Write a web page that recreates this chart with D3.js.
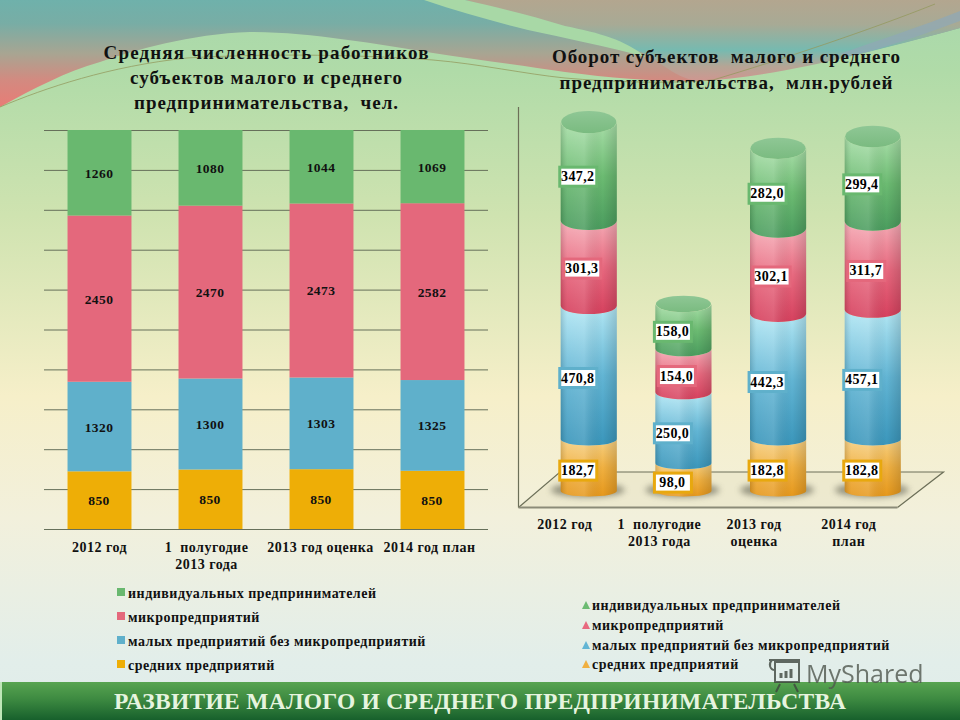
<!DOCTYPE html>
<html><head><meta charset="utf-8">
<script src="https://cdnjs.cloudflare.com/ajax/libs/d3/7.8.5/d3.min.js"></script>
<style>html,body{margin:0;padding:0;background:#fff}svg{display:block}text{font-family:"Liberation Serif",serif;font-weight:bold;fill:#111}</style>
</head><body><div id="c"></div>
<script>
const seriesNames=["средних предприятий","малых предприятий без микропредприятий","микропредприятий","индивидуальных предпринимателей"];
const workersMedium=[850,850,850,850];
const workersSmall=[1320,1300,1303,1325];
const workersMicro=[2450,2470,2473,2582];
const workersIndividual=[1260,1080,1044,1069];
const turnoverMedium=[182.7,98.0,182.8,182.8];
const turnoverSmall=[470.8,250.0,442.3,457.1];
const turnoverMicro=[301.3,154.0,302.1,311.7];
const turnoverIndividual=[347.2,158.0,282.0,299.4];
const leftCategories=[["2012 год"],["1  полугодие","2013 года"],["2013 год оценка"],["2014 год план"]];
const rightCategories=[["2012 год"],["1  полугодие","2013 года"],["2013 год","оценка"],["2014 год","план"]];
const leftTitle=["Средняя численность работников","субъектов малого и среднего","предпринимательства,  чел."];
const rightTitle=["Оборот субъектов  малого и среднего","предпринимательства,  млн.рублей"];
const bannerText="РАЗВИТИЕ МАЛОГО И СРЕДНЕГО ПРЕДПРИНИМАТЕЛЬСТВА";
const flatColors=["#eeae06","#5fb0cb","#e4687c","#69b86f"];
const cylColors=[
 {light:"#f6d083",mid:"#f0b040",dark:"#e6981c"},
 {light:"#b4e8f5",mid:"#62b5d4",dark:"#3a96bb"},
 {light:"#f5acb6",mid:"#e8697f",dark:"#d6415e"},
 {light:"#a9dfa9",mid:"#6cbb72",dark:"#4a9c5e"}];

const W=960,H=720;
const svg=d3.select("#c").append("svg").attr("width",W).attr("height",H);
const defs=svg.append("defs");
function grad(id,stops,v=true){
 const g=defs.append("linearGradient").attr("id",id).attr("x1",0).attr("y1",0).attr("x2",v?0:1).attr("y2",v?1:0);
 stops.forEach(s=>g.append("stop").attr("offset",s[0]).attr("stop-color",s[1]).attr("stop-opacity",s[2]===undefined?1:s[2]));
}
grad("bg",[[0,"#a8d8ac"],[0.1,"#b0dba8"],[0.3,"#cfe3b0"],[0.55,"#f6efc9"],[0.72,"#f2f0dc"],[0.92,"#e2eeea"],[1,"#e0ecea"]]);
grad("wave",[[0,"#6fb1ab"],[0.22,"#78ada5"],[0.5,"#a8a592"],[0.75,"#d38a80"],[1,"#e87c76"]]);
grad("waveR",[[0,"#b3a68f"],[0.3,"#a8aa95"],[0.62,"#76bab0"],[0.82,"#b5a595"],[1,"#d09690"]]);
grad("banner",[[0,"#58a451"],[0.45,"#3d8a41"],[1,"#17602c"]]);
grad("edge",[[0,"#000",0.14],[0.12,"#fff",0.08],[0.42,"#fff",0.14],[0.75,"#000",0],[1,"#000",0.14]],false);
cylColors.forEach((c,i)=>grad("cyl"+i,[[0,c.light],[0.5,c.mid],[1,c.dark]]));
grad("cap",[[0,"#8fc795"],[1,"#7abb80"]]);
defs.append("filter").attr("id","blur").attr("x","-30%").attr("y","-60%").attr("width","160%").attr("height","220%").append("feGaussianBlur").attr("stdDeviation",3);

// background
svg.append("rect").attr("width",W).attr("height",H).attr("fill","url(#bg)");
svg.append("path").attr("d","M0,107C35,88 65,72 100,62C135,50 190,34 250,32C310,32 375,44 433,53C480,60 525,66 565,72C610,78 650,81 690,81C760,78 860,55 960,28V0H0Z").attr("fill","url(#wave)");
svg.append("path").attr("d","M465,0C520,16 590,33 646,54C665,66 680,80 700,81C770,78 860,55 960,28V0Z").attr("fill","url(#waveR)");
svg.append("path").attr("d","M424,0C460,12 495,22 528,30C565,38 605,46 646,57C625,40 600,33 565,26C530,15 495,7 465,0Z").attr("fill","#a8d8a6");
svg.append("path").attr("d","M839,54C880,40 925,25 960,11V21C925,34 890,46 852,56Z").attr("fill","#90a8b4").attr("opacity",.75);
svg.append("path").attr("d","M0,107C45,88 110,66 187,58C270,53 370,55 433,60C480,64 525,74 565,78C610,82 670,84 713,80C780,60 870,30 935,4").attr("fill","none").attr("stroke","#93985c").attr("stroke-width",1).attr("opacity",.75);

function title(lines,cx,y0,step,widths){
 lines.forEach((l,i)=>svg.append("text").attr("x",cx).attr("y",y0+i*step).attr("text-anchor","middle").attr("font-size",19).attr("xml:space","preserve").attr("textLength",widths[i]).attr("lengthAdjust","spacing").text(l));
}
title(leftTitle,266,59,25,[325,272,264]);
title(rightTitle,726,63,25.5,[348,333]);

// left chart
const xL=d3.scaleBand().domain(d3.range(4)).range([44,488]).paddingInner(0.424).paddingOuter(0.212);
const yL=d3.scaleLinear().domain([0,1]).range([529,130]);
const leftSeries=[workersMedium,workersSmall,workersMicro,workersIndividual];
const leftRows=d3.range(4).map(i=>({i,v:leftSeries.map(s=>s[i])}));
const leftStack=d3.stack().keys([0,1,2,3]).value((d,k)=>d.v[k]).offset(d3.stackOffsetExpand)(leftRows);
svg.append("g").selectAll("line").data(yL.ticks(10)).join("line")
 .attr("x1",44).attr("x2",488).attr("y1",d=>yL(d)+.5).attr("y2",d=>yL(d)+.5).attr("stroke","#66705a").attr("stroke-width",1);
leftStack.forEach((s,k)=>{
 svg.append("g").selectAll("rect").data(s).join("rect")
  .attr("x",d=>xL(d.data.i)).attr("width",xL.bandwidth())
  .attr("y",d=>yL(d[1])).attr("height",d=>yL(d[0])-yL(d[1])).attr("fill",flatColors[k]);
 svg.append("g").selectAll("text").data(s).join("text")
  .attr("x",d=>xL(d.data.i)+xL.bandwidth()/2-.5).attr("y",d=>(yL(d[0])+yL(d[1]))/2+5)
  .attr("text-anchor","middle").attr("font-size",13.5).attr("letter-spacing",.4).attr("fill",["#4a2a08","#12283a","#4a1018","#0f3a18"][k])
  .text(d=>d.data.v[k]);
});
const axL=svg.append("g").attr("transform","translate(0,529)").call(d3.axisBottom(xL).tickSize(0).tickFormat(""));
axL.select(".domain").remove();
axL.selectAll(".tick").each(function(i){
 const t=d3.select(this).append("text").attr("text-anchor","middle").attr("font-size",14).attr("letter-spacing",.5);
 leftCategories[i].forEach((l,j)=>t.append("tspan").attr("x",i==1?-4:i==0?0:i==2?-1:-3).attr("y",23+j*17).attr("xml:space","preserve").text(l));
});

// left legend
const legL=[3,2,1,0];
legL.forEach((k,i)=>{
 const y=593+i*24;
 svg.append("rect").attr("x",117).attr("y",y-5).attr("width",8).attr("height",8).attr("fill",flatColors[k]);
 svg.append("text").attr("x",128).attr("y",y+5).attr("font-size",14).attr("letter-spacing",.5).text(seriesNames[k]);
});

// right chart
const xR=d3.scaleBand().domain(d3.range(4)).range([541.75,919.75]).paddingInner(0.407).paddingOuter(0.2);
const yR=d3.scaleLinear().domain([0,1302]).range([491,122]);
const rx=xR.bandwidth()/2;
const ry=y=>5.5+(490-y)*0.015;
// floor and wall
svg.append("path").attr("d","M518.5,507.5H897.5L943.5,472H560Z").attr("fill","#e8e4c6").attr("opacity",.55);
svg.append("path").attr("d","M518.5,107V507.5M897.5,507.5L943.5,472H560L518.5,507.5").attr("fill","none").attr("stroke","#6c6f58").attr("stroke-width",1.2);
svg.append("path").attr("d","M518.5,507.5H897.5").attr("stroke","#8b8b78").attr("stroke-width",2);
const rightSeries=[turnoverMedium,turnoverSmall,turnoverMicro,turnoverIndividual];
const rightRows=d3.range(4).map(i=>({i,v:rightSeries.map(s=>s[i])}));
const rightStack=d3.stack().keys([0,1,2,3]).value((d,k)=>d.v[k])(rightRows);
svg.append("g").selectAll("ellipse").data(d3.range(4)).join("ellipse")
 .attr("cx",i=>xR(i)+rx-1).attr("cy",490).attr("rx",rx+9).attr("ry",7).attr("fill","#6d6d5c").attr("opacity",.7).attr("filter","url(#blur)");
function segPath(x,yTop,yBot){
 return `M${x},${yTop}V${yBot}A${rx},${ry(yBot)} 0 0 0 ${x+2*rx},${yBot}V${yTop}A${rx},${ry(yTop)} 0 0 1 ${x},${yTop}Z`;
}
const labelLayer=[];
rightStack.forEach((s,k)=>{
 const g=svg.append("g");
 g.selectAll("path.seg").data(s).join("path").attr("class","seg")
  .attr("d",d=>segPath(xR(d.data.i),yR(d[1]),yR(d[0]))).attr("fill",`url(#cyl${k})`);
 g.selectAll("path.edge").data(s).join("path").attr("class","edge")
  .attr("d",d=>segPath(xR(d.data.i),yR(d[1]),yR(d[0]))).attr("fill","url(#edge)");
 s.forEach(d=>labelLayer.push({k,i:d.data.i,v:d.data.v[k],y0:yR(d[0]),y1:yR(d[1])}));
});
svg.append("g").selectAll("ellipse").data(rightStack[3]).join("ellipse")
 .attr("cx",d=>xR(d.data.i)+rx).attr("cy",d=>yR(d[1])).attr("rx",rx-.5).attr("ry",d=>ry(yR(d[1]))).attr("fill","url(#cap)");
const fmt=v=>v.toFixed(1).replace(".",",");
const borders=["#e8a80e","#5fb0cb","#e4687c","#69b86f"];
const lab=svg.append("g").selectAll("g").data(labelLayer).join("g")
 .attr("transform",d=>`translate(${xR(d.i)+rx+(d.k===2?-7:-11)},${(d.y0+d.y1)/2+5})`);
lab.append("rect").attr("x",-18).attr("y",-9).attr("width",37).attr("height",19).attr("fill","#fff").attr("stroke",d=>borders[d.k]).attr("stroke-width",3);
lab.append("text").attr("text-anchor","middle").attr("y",5).attr("font-size",14).attr("letter-spacing",.4).attr("style","fill:#000").text(d=>fmt(d.v));
const axR=svg.append("g").attr("transform","translate(0,507)").call(d3.axisBottom(xR).tickSize(0).tickFormat(""));
axR.select(".domain").remove();
axR.selectAll(".tick").each(function(i){
 const t=d3.select(this).append("text").attr("text-anchor","middle").attr("font-size",14).attr("letter-spacing",.5);
 rightCategories[i].forEach((l,j)=>t.append("tspan").attr("x",-24).attr("y",22+j*17).attr("xml:space","preserve").text(l));
});
// right legend
legL.forEach((k,i)=>{
 const y=[605,625,645,664][i];
 const c=cylColors[k];
 svg.append("path").attr("d",`M582,${y+4}L586,${y-4}L590,${y+4}Z`).attr("fill",c.mid);
 svg.append("text").attr("x",592).attr("y",y+5).attr("font-size",14).attr("letter-spacing",.5).text(seriesNames[k]);
});

// banner
svg.append("rect").attr("x",0).attr("y",682).attr("width",W).attr("height",38).attr("fill","url(#banner)");
svg.append("rect").attr("x",0).attr("y",682).attr("width",2).attr("height",38).attr("fill","#bfe6b8");
svg.append("text").attr("x",480).attr("y",709).attr("text-anchor","middle").attr("font-size",23.5).attr("textLength",732).attr("style","fill:#e6f4df").text(bannerText);

// watermark
const wm=svg.append("g").attr("opacity",.8);
wm.append("text").attr("x",806).attr("y",683).attr("font-size",25).attr("style","font-family:'Open Sans',sans-serif;font-weight:400;fill:#50584f").text("MyShared");
const ic=wm.append("g").attr("fill","none").attr("stroke","#3e463e").attr("stroke-width",2);
ic.append("rect").attr("x",775).attr("y",662).attr("width",24).attr("height",20);
ic.append("path").attr("d","M769,660H800M772,660C768,664 770,670 775,670M780,684L776,692M794,684L798,692");
ic.selectAll("line.b").data([0,1,2]).join("line").attr("x1",d=>781+d*5).attr("x2",d=>781+d*5).attr("y1",678).attr("y2",d=>673-d*2).attr("stroke-width",3);
</script>
</body></html>
